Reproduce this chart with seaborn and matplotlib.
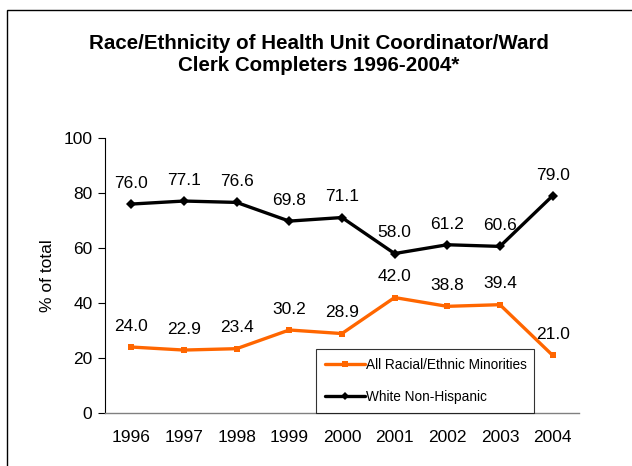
import matplotlib
matplotlib.use("Agg")
import matplotlib.pyplot as plt
import seaborn as sns
import pandas as pd
from matplotlib.patches import Rectangle

# data
years = ["1996", "1997", "1998", "1999", "2000", "2001", "2002", "2003", "2004"]
minorities = [24.0, 22.9, 23.4, 30.2, 28.9, 42.0, 38.8, 39.4, 21.0]
white = [76.0, 77.1, 76.6, 69.8, 71.1, 58.0, 61.2, 60.6, 79.0]
series_names = ["All Racial/Ethnic Minorities", "White Non-Hispanic"]

data = pd.DataFrame({
    "Year": years * 2,
    "Value": minorities + white,
    "Group": [series_names[0]] * len(years) + [series_names[1]] * len(years),
})

sns.set_style("white")
plt.rcParams["font.family"] = ["Liberation Sans", "DejaVu Sans"]
plt.rcParams.update({"text.color": "black", "axes.labelcolor": "black",
                     "xtick.color": "black", "ytick.color": "black"})

fig = plt.figure(figsize=(6.32, 4.66), dpi=100)
ax = fig.add_axes([0.166, 0.1137, 0.75, 0.590])

colors = {series_names[0]: "#FF6600", series_names[1]: "#000000"}
sns.lineplot(data=data, x="Year", y="Value", hue="Group", style="Group",
             palette=colors, markers={series_names[0]: "s", series_names[1]: "D"},
             dashes=False, linewidth=2.4, markersize=5, markeredgewidth=0,
             sort=False, ax=ax)

# value labels above each point
for vals in (minorities, white):
    for i, v in enumerate(vals):
        ax.annotate(f"{v:.1f}", (i, v), xytext=(0, 9.5), textcoords="offset points",
                    ha="center", va="bottom", fontsize=12.5)

ax.set_xlim(-0.5, len(years) - 0.5)
ax.set_ylim(0, 100)
ax.set_yticks(range(0, 101, 20))
ax.set_xlabel("")
ax.set_ylabel("% of total", fontsize=12.5, labelpad=6)
ax.tick_params(axis="y", which="both", left=True, length=5, width=0.8,
               labelsize=12.5, pad=4)
ax.tick_params(axis="x", bottom=False, labelsize=12.5, pad=9)

for s in ("top", "right"):
    ax.spines[s].set_visible(False)
ax.spines["left"].set_color("black")
ax.spines["left"].set_linewidth(0.8)
ax.spines["bottom"].set_color("#808080")
ax.spines["bottom"].set_linewidth(1.0)

leg = ax.legend(loc="lower left", bbox_to_anchor=(0.446, 0.0, 0.46, 0.23),
                mode="expand", fontsize=9.8, frameon=True, fancybox=False,
                handlelength=2.9, handletextpad=0.1, borderaxespad=0,
                labelspacing=1.35, borderpad=0.65, markerscale=0.8)
leg.get_frame().set_edgecolor("black")
leg.get_frame().set_linewidth(0.8)

fig.text(0.505, 0.883, "Race/Ethnicity of Health Unit Coordinator/Ward\nClerk Completers 1996-2004*",
         ha="center", va="center", fontsize=14.8, fontweight="bold", linespacing=1.25)

# outer frame
fig.patches.append(Rectangle((7 / 632, -0.1), 1.2, 1.1 - 10 / 466, transform=fig.transFigure,
                             fill=False, edgecolor="black", linewidth=1.0, clip_on=False))

fig.savefig("out.png", dpi=100)
